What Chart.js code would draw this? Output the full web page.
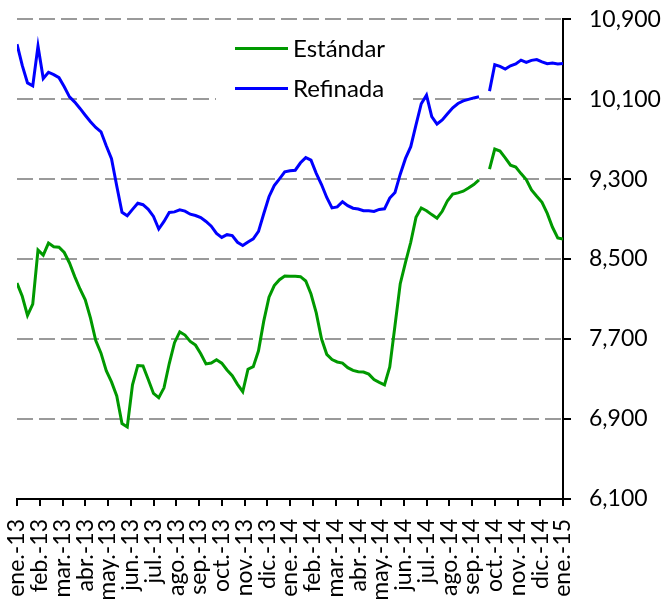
<!DOCTYPE html>
<html>
<head>
<meta charset="utf-8">
<script src="https://cdn.jsdelivr.net/npm/chart.js@4"></script>
<style>
  html, body { margin: 0; padding: 0; background: #fff; }
  #wrap { width: 665px; height: 599px; }
</style>
</head>
<body>
<div id="wrap"><canvas id="chart" width="665" height="599"></canvas></div>
<script>
const months = ['ene.-13', 'feb.-13', 'mar.-13', 'abr.-13', 'may.-13', 'jun.-13', 'jul.-13',
  'ago.-13', 'sep.-13', 'oct.-13', 'nov.-13', 'dic.-13', 'ene.-14', 'feb.-14', 'mar.-14',
  'abr.-14', 'may.-14', 'jun.-14', 'jul.-14', 'ago.-14', 'sep.-14', 'oct.-14', 'nov.-14',
  'dic.-14', 'ene.-15'];

// weekly prices, ene.-13 .. ene.-15 (one missing week in sep./oct. 2014)
const estandar = [
  8260, 8128, 7937, 8050, 8590, 8540, 8660, 8624, 8619, 8566,
  8461, 8325, 8201, 8092, 7910, 7685, 7559, 7383, 7271, 7131,
  6854, 6820, 7242, 7435, 7431, 7295, 7156, 7113, 7212, 7455,
  7664, 7771, 7740, 7677, 7639, 7552, 7451, 7460, 7493, 7459,
  7391, 7334, 7247, 7173, 7398, 7424, 7582, 7879, 8119, 8235,
  8294, 8331, 8327, 8327, 8324, 8281, 8150, 7961, 7702, 7547,
  7495, 7471, 7460, 7414, 7386, 7373, 7370, 7349, 7294, 7267,
  7242, 7420, 7836, 8254, 8466, 8668, 8917, 9011, 8984, 8945,
  8909, 8978, 9084, 9150, 9162, 9179, 9210, 9246, 9293, null,
  9400, 9600, 9580, 9513, 9439, 9420, 9355, 9295, 9192, 9128,
  9067, 8957, 8818, 8712, 8700
];
const refinada = [
  10650, 10437, 10262, 10233, 10630, 10306, 10369, 10345, 10315, 10223,
  10122, 10070, 10007, 9939, 9874, 9817, 9773, 9633, 9505, 9231,
  8968, 8933, 8997, 9059, 9044, 8998, 8926, 8801, 8877, 8967,
  8972, 8992, 8980, 8949, 8936, 8915, 8876, 8829, 8756, 8717,
  8744, 8735, 8668, 8635, 8671, 8702, 8777, 8953, 9124, 9235,
  9303, 9372, 9384, 9389, 9463, 9515, 9489, 9358, 9246, 9116,
  9012, 9022, 9073, 9035, 9009, 9001, 8983, 8983, 8977, 8997,
  9003, 9110, 9167, 9349, 9507, 9624, 9843, 10054, 10140, 9924,
  9851, 9891, 9953, 10013, 10056, 10083, 10098, 10112, 10124, null,
  10180, 10444, 10427, 10400, 10433, 10452, 10490, 10467, 10488, 10496,
  10473, 10454, 10461, 10451, 10457
];

const yMin = 6100, yMax = 10900, yStep = 800;

// place each week on the month axis
const toPoints = arr => arr.map((v, i) => ({ x: i * (months.length - 1) / (arr.length - 1), y: v }));

Chart.defaults.font.family = 'Lato';
Chart.defaults.color = '#000';

const legendBox = {
  id: 'legendBox',
  beforeDatasetsDraw(chart) {
    const ctx = chart.ctx;
    ctx.save();
    ctx.fillStyle = '#fff';
    ctx.fillRect(216, 23, 191, 80);
    ctx.restore();
  },
  afterDatasetsDraw(chart) {
    const ctx = chart.ctx;
    ctx.save();
    chart.data.datasets.forEach((ds, i) => {
      const y = 48.5 + i * 40;
      ctx.strokeStyle = ds.borderColor;
      ctx.lineWidth = 3;
      ctx.beginPath();
      ctx.moveTo(235, y);
      ctx.lineTo(288, y);
      ctx.stroke();
      ctx.fillStyle = '#000';
      ctx.font = '24px Lato';
      ctx.textBaseline = 'alphabetic';
      ctx.fillText(ds.label, 293, y + 8.5);
    });
    ctx.restore();
  }
};

new Chart(document.getElementById('chart'), {
  type: 'line',
  data: {
    datasets: [
      {
        label: 'Estándar',
        data: toPoints(estandar),
        borderColor: '#009900',
        borderWidth: 3,
        pointRadius: 0,
        tension: 0,
        spanGaps: false
      },
      {
        label: 'Refinada',
        data: toPoints(refinada),
        borderColor: '#0000ff',
        borderWidth: 3,
        pointRadius: 0,
        tension: 0,
        spanGaps: false
      }
    ]
  },
  options: {
    responsive: false,
    animation: false,
    layout: { padding: { left: 17, top: 0, right: 0, bottom: 0 } },
    plugins: {
      legend: { display: false },
      tooltip: { enabled: false }
    },
    scales: {
      x: {
        type: 'linear',
        min: 0,
        max: months.length - 1,
        afterFit: s => { s.height = 100; },
        grid: {
          drawOnChartArea: false,
          color: '#000',
          tickColor: '#000',
          tickLength: 7,
          lineWidth: 2
        },
        border: { color: '#000', width: 2 },
        ticks: {
          stepSize: 1,
          maxTicksLimit: 40,
          autoSkip: false,
          maxRotation: 90,
          minRotation: 90,
          padding: 13,
          font: { size: 23 },
          callback: v => months[v]
        }
      },
      y: {
        position: 'right',
        min: yMin,
        max: yMax,
        afterFit: s => { s.width = 102; },
        grid: {
          color: c => (c.tick && c.tick.value === yMin) ? 'rgba(0,0,0,0)' : '#9a9a9a',
          lineWidth: 2,
          tickColor: '#000',
          tickLength: 8
        },
        border: { color: '#000', width: 2, dash: [16, 6] },
        ticks: {
          stepSize: yStep,
          padding: 18,
          font: { size: 23, lineHeight: 0.1 },
          callback: v => v.toLocaleString('en-US')
        }
      }
    }
  },
  plugins: [legendBox]
});
</script>
</body>
</html>
